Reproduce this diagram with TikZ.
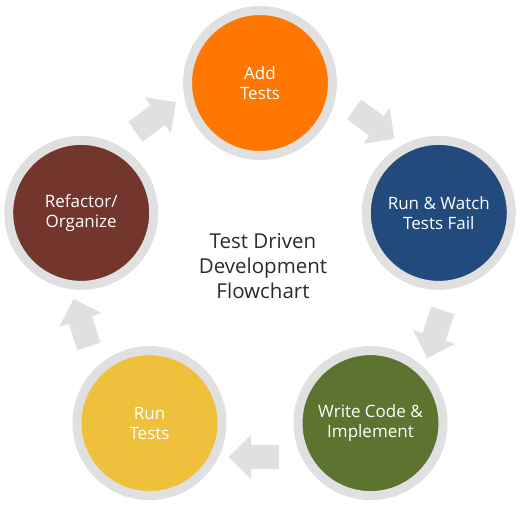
\documentclass[tikz,border=0pt]{standalone}
\usepackage{fontspec}
\setmainfont{Open Sans}
\usetikzlibrary{shapes.arrows,calc}
\definecolor{ringgray}{HTML}{E0E0E0}
\definecolor{addorange}{HTML}{FF7700}
\definecolor{failblue}{HTML}{234A7C}
\definecolor{codegreen}{HTML}{5D7430}
\definecolor{runyellow}{HTML}{EEC03B}
\definecolor{refbrown}{HTML}{73362D}
\definecolor{titlegray}{HTML}{2B2B2B}
\begin{document}
\begin{tikzpicture}
            [x=1pt,y=1pt,
             stage/.style={circle,minimum size=145pt,inner sep=0pt,draw=ringgray,line width=9pt,
                           text=white,align=center,font=\fontsize{17}{20}\selectfont},
             turn/.style={single arrow,fill=ringgray,draw=none,inner sep=12pt,
                          single arrow head extend=10pt,minimum height=50pt}]
            \useasboundingbox (0,0) rectangle (522,506);
            \coordinate (mid) at (260,235);
            % the five stages
            \node[stage,fill=addorange] (add) at ($(mid)+(90:188)$) {Add\\Tests};
            \node[stage,fill=failblue] (fail) at ($(mid)+(18:188)$) {Run \& Watch\\Tests Fail};
            \node[stage,fill=codegreen] (code) at ($(mid)+(-54:188)$) {Write Code \&\\Implement};
            \node[stage,fill=runyellow] (run) at ($(mid)+(-126:188)$) {Run\\Tests};
            \node[stage,fill=refbrown] (refactor) at ($(mid)+(162:188)$) {Refactor/\\Organize};
            % arrows between them
            \node[turn,rotate=-36] (addfail) at ($(mid)+(54:186)$) {};
            \node[turn,rotate=-108] (failcode) at ($(mid)+(-18:186)$) {};
            \node[turn,rotate=-180] (coderun) at ($(mid)+(-90:186)$) {};
            \node[turn,rotate=-252] (runrefactor) at ($(mid)+(-162:186)$) {};
            \node[turn,rotate=36] (refactoradd) at ($(mid)+(126:186)$) {};
            % title
            \node[align=center,text=titlegray,font=\fontsize{20.5}{25}\selectfont] (title) at (263,240)
                {Test Driven\\Development\\Flowchart};
        \end{tikzpicture}
\end{document}
